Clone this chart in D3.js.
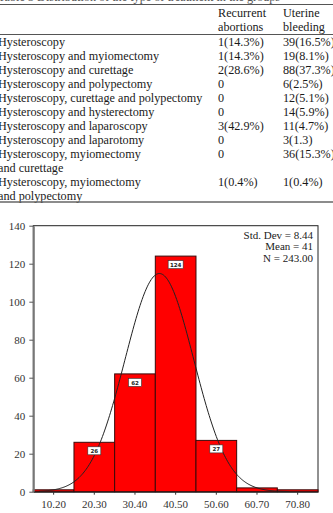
<!DOCTYPE html>
<html>
<head>
<meta charset="utf-8">
<script src="https://cdn.jsdelivr.net/npm/d3@7"></script>
<style>
  html, body { margin: 0; padding: 0; background: #fff; }
  svg { display: block; font-family: 'Liberation Serif', 'Times New Roman', serif; }
</style>
</head>
<body>
<div id="chart"></div>
<script>
// table
const caption = 'Table 3 Distribution of the type of treatment in the groups'
const columnHeads = [['Recurrent', 'abortions'], ['Uterine', 'bleeding']]
const procedures = [
  ['Hysteroscopy'],
  ['Hysteroscopy and myiomectomy'],
  ['Hysteroscopy and curettage'],
  ['Hysteroscopy and polypectomy'],
  ['Hysteroscopy, curettage and polypectomy'],
  ['Hysteroscopy and hysterectomy'],
  ['Hysteroscopy and laparoscopy'],
  ['Hysteroscopy and laparotomy'],
  ['Hysteroscopy, myiomectomy', 'and curettage'],
  ['Hysteroscopy, myiomectomy', 'and polypectomy']
]
const recurrentAbortions = ['1(14.3%)', '1(14.3%)', '2(28.6%)', '0', '0', '0', '3(42.9%)', '0', '0', '1(0.4%)']
const uterineBleeding = ['39(16.5%)', '19(8.1%)', '88(37.3%)', '6(2.5%)', '12(5.1%)', '14(5.9%)', '11(4.7%)', '3(1.3)', '36(15.3%)', '1(0.4%)']

// histogram
const binLabels = ['10.20', '20.30', '30.40', '40.50', '50.60', '60.70', '70.80']
const binEdges = [10, 20, 30, 40, 50, 60, 70, 80]
const binCounts = [1, 26, 62, 124, 27, 2, 1]
const yTicks = [0, 20, 40, 60, 80, 100, 120, 140]
const mean = 41
const stdDev = 8.44
const total = 243
const statLines = ['Std. Dev = 8.44', 'Mean = 41', 'N = 243.00']

const W = 333
const H = 513
const svg = d3.select('#chart').append('svg')
  .attr('width', W)
  .attr('height', H)

// ---- table ----
const lineH = 14
const colX = [-2, 218, 283]
const table = svg.append('g').attr('font-size', 12.2).attr('fill', '#1a1a1a')

// caption is mostly cropped off the top in the source
table.append('text').attr('x', -2).attr('y', 0.5).attr('fill', '#555').text(caption)
table.append('line').attr('x1', 0).attr('x2', W).attr('y1', 4.5).attr('y2', 4.5)
  .attr('stroke', '#555').attr('stroke-width', 1)

columnHeads.forEach((head, i) => {
  head.forEach((s, j) => {
    table.append('text').attr('x', colX[i + 1]).attr('y', 16.5 + j * lineH).text(s)
  })
})
table.append('line').attr('x1', 0).attr('x2', W).attr('y1', 34.5).attr('y2', 34.5)
  .attr('stroke', '#555').attr('stroke-width', 1)

let lineIdx = 0
procedures.forEach((proc, i) => {
  const y0 = 46 + lineIdx * lineH
  proc.forEach((s, j) => {
    table.append('text').attr('x', colX[0]).attr('y', y0 + j * lineH).text(s)
  })
  table.append('text').attr('x', colX[1]).attr('y', y0).text(recurrentAbortions[i])
  table.append('text').attr('x', colX[2]).attr('y', y0).text(uterineBleeding[i])
  lineIdx += proc.length
})
table.append('line').attr('x1', 0).attr('x2', W).attr('y1', 202).attr('y2', 202)
  .attr('stroke', '#666').attr('stroke-width', 1.6)

// ---- histogram ----
const margin = { top: 225.7, right: 15, bottom: 21.3, left: 33.3 }
const plotW = W - margin.left - margin.right
const plotH = H - margin.top - margin.bottom

const g = svg.append('g')
  .attr('transform', 'translate(' + margin.left + ',' + margin.top + ')')

const x = d3.scaleBand()
  .domain(binLabels)
  .range([0, plotW])
  .paddingInner(0)
  .paddingOuter(0)

const xv = d3.scaleLinear()
  .domain([binEdges[0], binEdges[binEdges.length - 1]])
  .range([0, plotW])

const y = d3.scaleLinear()
  .domain([0, 140])
  .range([plotH, 0])

// frame
g.append('rect')
  .attr('x', 0).attr('y', 0)
  .attr('width', plotW).attr('height', plotH)
  .attr('fill', '#fff')
  .attr('stroke', '#222')
  .attr('stroke-width', 1)

// bars
g.selectAll('.bar')
  .data(binCounts)
  .enter()
  .append('rect')
  .attr('class', 'bar')
  .attr('x', (d, i) => x(binLabels[i]))
  .attr('y', d => y(d))
  .attr('width', x.bandwidth())
  .attr('height', d => plotH - y(d))
  .attr('fill', '#ff0000')
  .attr('stroke', '#3a0a0a')
  .attr('stroke-width', 1)

// normal curve
const binWidth = binEdges[1] - binEdges[0]
const density = v => total * binWidth / (stdDev * Math.sqrt(2 * Math.PI)) *
  Math.exp(-((v - mean) ** 2) / (2 * stdDev * stdDev))
const curvePts = d3.range(binEdges[0] + 1.5, binEdges[binEdges.length - 1] - 7, 0.25)
g.append('path')
  .datum(curvePts)
  .attr('fill', 'none')
  .attr('stroke', '#222')
  .attr('stroke-width', 1)
  .attr('d', d3.line().x(v => xv(v)).y(v => y(density(v))).curve(d3.curveBasis))

// count labels
const labelled = binCounts.map((d, i) => ({ d, i })).filter(o => o.d > 5)
const lab = g.selectAll('.lab')
  .data(labelled)
  .enter()
  .append('g')
  .attr('class', 'lab')
  .attr('transform', o => 'translate(' + (x(binLabels[o.i]) + x.bandwidth() / 2) + ',' + (y(o.d) + 8.5) + ')')
lab.append('rect')
  .attr('x', o => (String(o.d).length > 2 ? -7.5 : -6.5))
  .attr('y', -4)
  .attr('width', o => (String(o.d).length > 2 ? 15 : 13))
  .attr('height', 8)
  .attr('fill', '#fff')
  .attr('stroke', '#333')
  .attr('stroke-width', 0.6)
lab.append('text')
  .attr('text-anchor', 'middle')
  .attr('dy', '2.2')
  .attr('font-family', 'DejaVu Sans, sans-serif')
  .attr('font-size', 5.5)
  .attr('font-weight', 'bold')
  .attr('fill', '#222')
  .text(o => o.d)

// axes
const axisY = d3.axisLeft(y).tickValues(yTicks).tickSize(4).tickSizeOuter(0)
const gy = g.append('g').call(axisY)
gy.select('.domain').attr('stroke', '#777').attr('stroke-width', 2)
gy.selectAll('.tick line').attr('stroke', '#555')
gy.selectAll('.tick text')
  .attr('font-family', 'Liberation Serif, serif')
  .attr('font-size', 11)
  .attr('fill', '#333')
  .attr('x', -8)

const axisX = d3.axisBottom(x).tickSize(3).tickSizeOuter(0)
const gx = g.append('g').attr('transform', 'translate(0,' + plotH + ')').call(axisX)
gx.select('.domain').attr('stroke', '#222')
gx.selectAll('.tick line').attr('stroke', '#333')
gx.selectAll('.tick text')
  .attr('font-family', 'Liberation Serif, serif')
  .attr('font-size', 11)
  .attr('fill', '#333')
  .attr('y', 9)

// stats box text
g.selectAll('.stat')
  .data(statLines)
  .enter()
  .append('text')
  .attr('class', 'stat')
  .attr('x', plotW - 5)
  .attr('y', (d, i) => 13.5 + i * 11.3)
  .attr('text-anchor', 'end')
  .attr('font-size', 11)
  .attr('fill', '#222')
  .text(d => d)
</script>
</body>
</html>
